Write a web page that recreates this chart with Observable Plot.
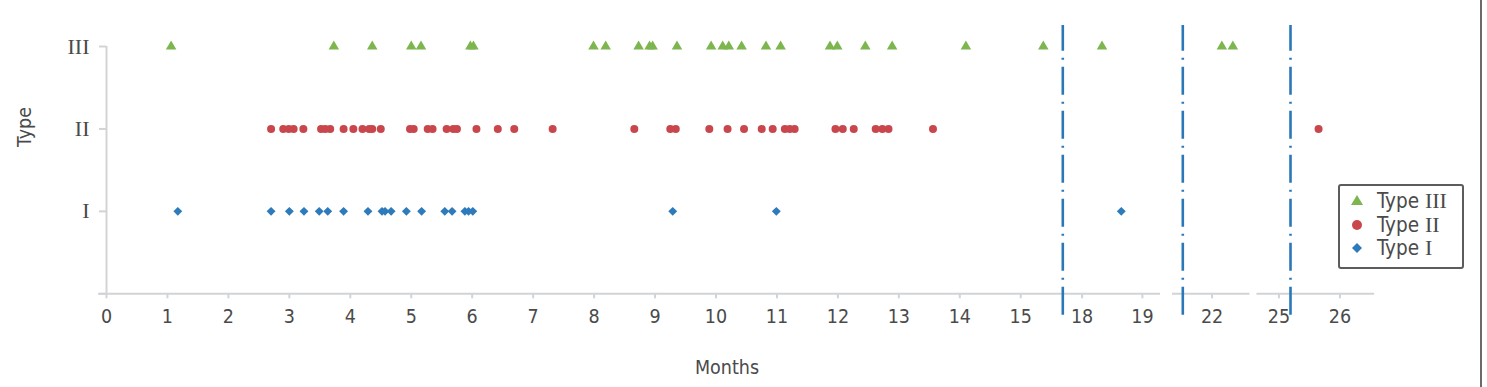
<!DOCTYPE html>
<html>
<head>
<meta charset="utf-8">
<script src="https://cdn.jsdelivr.net/npm/d3@7"></script>
<script src="https://cdn.jsdelivr.net/npm/@observablehq/plot@0.6"></script>
<style>
  body { margin: 0; background: #fff; }
  #wrap { position: relative; width: 1487px; height: 387px; overflow: hidden;
          font-family: "DejaVu Sans Condensed", "DejaVu Sans", sans-serif; font-stretch: condensed; color: #4a4a4a; }
  #chart { position: absolute; left: 0; top: 0; }
  .lbl { position: absolute; font-size: 19.5px; white-space: nowrap; line-height: 22px; }
  #ylab { left: 25px; top: 127px; transform: translate(-50%, -50%) rotate(-90deg); }
  #xlab { left: 727px; top: 368px; transform: translate(-50%, -50%); }
  #legend { position: absolute; left: 1338px; top: 184px; width: 122px; height: 81px;
            border: 2px solid #5c5c5c; border-radius: 3px; background: #fff; }
  #legend .row { position: absolute; left: 0; height: 22px; width: 122px; }
  #legend svg { position: absolute; left: 9px; top: 3px; }
  #legend span.t { position: absolute; left: 37px; top: 0; font-size: 20.5px; line-height: 22px; white-space: nowrap; }
  #legend span.r { font-family: "Liberation Serif", serif; font-size: 22px; }
  #edge { position: absolute; left: 1480px; top: 0; width: 2px; height: 387px; background: #6a6a6a; }
</style>
</head>
<body>
<div id="wrap">
  <div id="chart"></div>
  <div class="lbl" id="ylab"></div>
  <div class="lbl" id="xlab"></div>
  <div id="legend"></div>
  <div id="edge"></div>
</div>
<script>
// ---- data (months since start) ----
const typeIII = [1.06, 3.73, 4.36, 5.00, 5.16, 5.97, 6.02, 7.99, 8.19, 8.73, 8.91, 8.96, 9.36, 9.92,
  10.11, 10.21, 10.42, 10.82, 11.06, 11.87, 11.99, 12.45, 12.89, 14.10, 15.37, 18.33, 22.16, 22.34];
const typeII = [2.70, 2.90, 2.99, 3.07, 3.23, 3.52, 3.59, 3.67, 3.89, 4.05, 4.20, 4.31, 4.36, 4.50,
  4.98, 5.04, 5.27, 5.35, 5.58, 5.69, 5.75, 6.07, 6.42, 6.69, 7.32, 8.66, 9.25, 9.34, 9.89, 10.19,
  10.46, 10.75, 10.93, 11.13, 11.21, 11.29, 11.96, 12.08, 12.26, 12.62, 12.73, 12.83, 13.56, 25.65];
const typeI = [1.17, 2.70, 3.00, 3.24, 3.49, 3.63, 3.89, 4.29, 4.52, 4.57, 4.67, 4.92, 5.17, 5.55,
  5.67, 5.88, 5.94, 6.01, 9.29, 10.99, 18.65];

const seriesPrefix = "Type";
const seriesRoman = ["III", "II", "I"];               // legend order: Type III, Type II, Type I
const typeLabels = ["", "I", "II", "III"];          // y tick labels (0 = empty)
const monthTicks = [0, 1, 2, 3, 4, 5, 6, 7, 8, 9, 10, 11, 12, 13, 14, 15, 18, 19, 22, 25, 26];
const breakMonths = [15.69, 19.67, 25.19];            // dash-dot axis break lines
const xTitle = "Months";
const yTitle = "Type";

// ---- layout (broken x axis: piecewise scale) ----
const xDomain = [0, 15.69, 17.68, 19.67, 21.52, 22.675, 24.58, 26.6];
const xRange  = [106, 1062.3, 1062.3, 1182.3, 1182.3, 1252.8, 1252.8, 1376];
const axisSegments = [[-0.13, 19.3], [19.5, 22.62], [24.64, 26.57]];

const green = "#7db54e", red = "#c9474c", blue = "#2d7bbb", lineBlue = "#2b78b8";
const axisGray = "#d0d4d8", textGray = "#4a4a4a";

const plot = Plot.plot({
  width: 1487,
  height: 387,
  marginTop: 46,
  marginBottom: 93.7,
  marginLeft: 106,
  marginRight: 111,
  style: { fontFamily: '"DejaVu Sans Condensed", "DejaVu Sans", sans-serif', fontStretch: "condensed", background: "transparent" },
  x: { type: "linear", domain: xDomain, range: xRange },
  y: { domain: [0, 3] },
  marks: [
    Plot.ruleY(axisSegments, { y: 0, x1: d => d[0], x2: d => d[1], stroke: axisGray, strokeWidth: 2 }),
    Plot.ruleX([0], { y1: 0, y2: 3, stroke: axisGray, strokeWidth: 2 }),
    Plot.axisX(monthTicks, { tickSize: 5, tickPadding: 10, fontSize: 19.5, stroke: axisGray, strokeWidth: 2,
      fill: textGray, label: null, tickFormat: d => String(d) }),
    Plot.axisY([0, 1, 2, 3], { tickSize: 7, tickPadding: 10, fontSize: 22, fontFamily: '"Liberation Serif", serif',
      stroke: axisGray, strokeWidth: 2, fill: textGray, label: null, tickFormat: d => typeLabels[d] }),
    Plot.ruleX(breakMonths, { y1: -0.26, y2: 3.255, stroke: lineBlue, strokeWidth: 2.6, strokeDasharray: "28,7,2,7" }),
    Plot.dot(typeIII, { x: d => d, y: 3, symbol: "triangle", fill: green, r: 3.9 }),
    Plot.dot(typeII, { x: d => d, y: 2, symbol: "circle", fill: red, r: 4 }),
    Plot.dot(typeI, { x: d => d, y: 1, symbol: "diamond2", fill: blue, r: 4 })
  ]
});
document.getElementById("chart").appendChild(plot);
document.getElementById("xlab").textContent = xTitle;
document.getElementById("ylab").textContent = yTitle;

// legend
const legendSymbols = [
  `<polygon points="8,2 14,12 2,12" fill="${green}"/>`,
  `<circle cx="8" cy="8" r="5" fill="${red}"/>`,
  `<polygon points="8,3 13,8 8,13 3,8" fill="${blue}"/>`
];
const legend = document.getElementById("legend");
seriesRoman.forEach((roman, i) => {
  const row = document.createElement("div");
  row.className = "row";
  row.style.top = (4 + i * 23.5) + "px";
  row.innerHTML = `<svg width="16" height="16">${legendSymbols[i]}</svg><span class="t">${seriesPrefix} <span class="r">${roman}</span></span>`;
  legend.appendChild(row);
});
</script>
</body>
</html>
